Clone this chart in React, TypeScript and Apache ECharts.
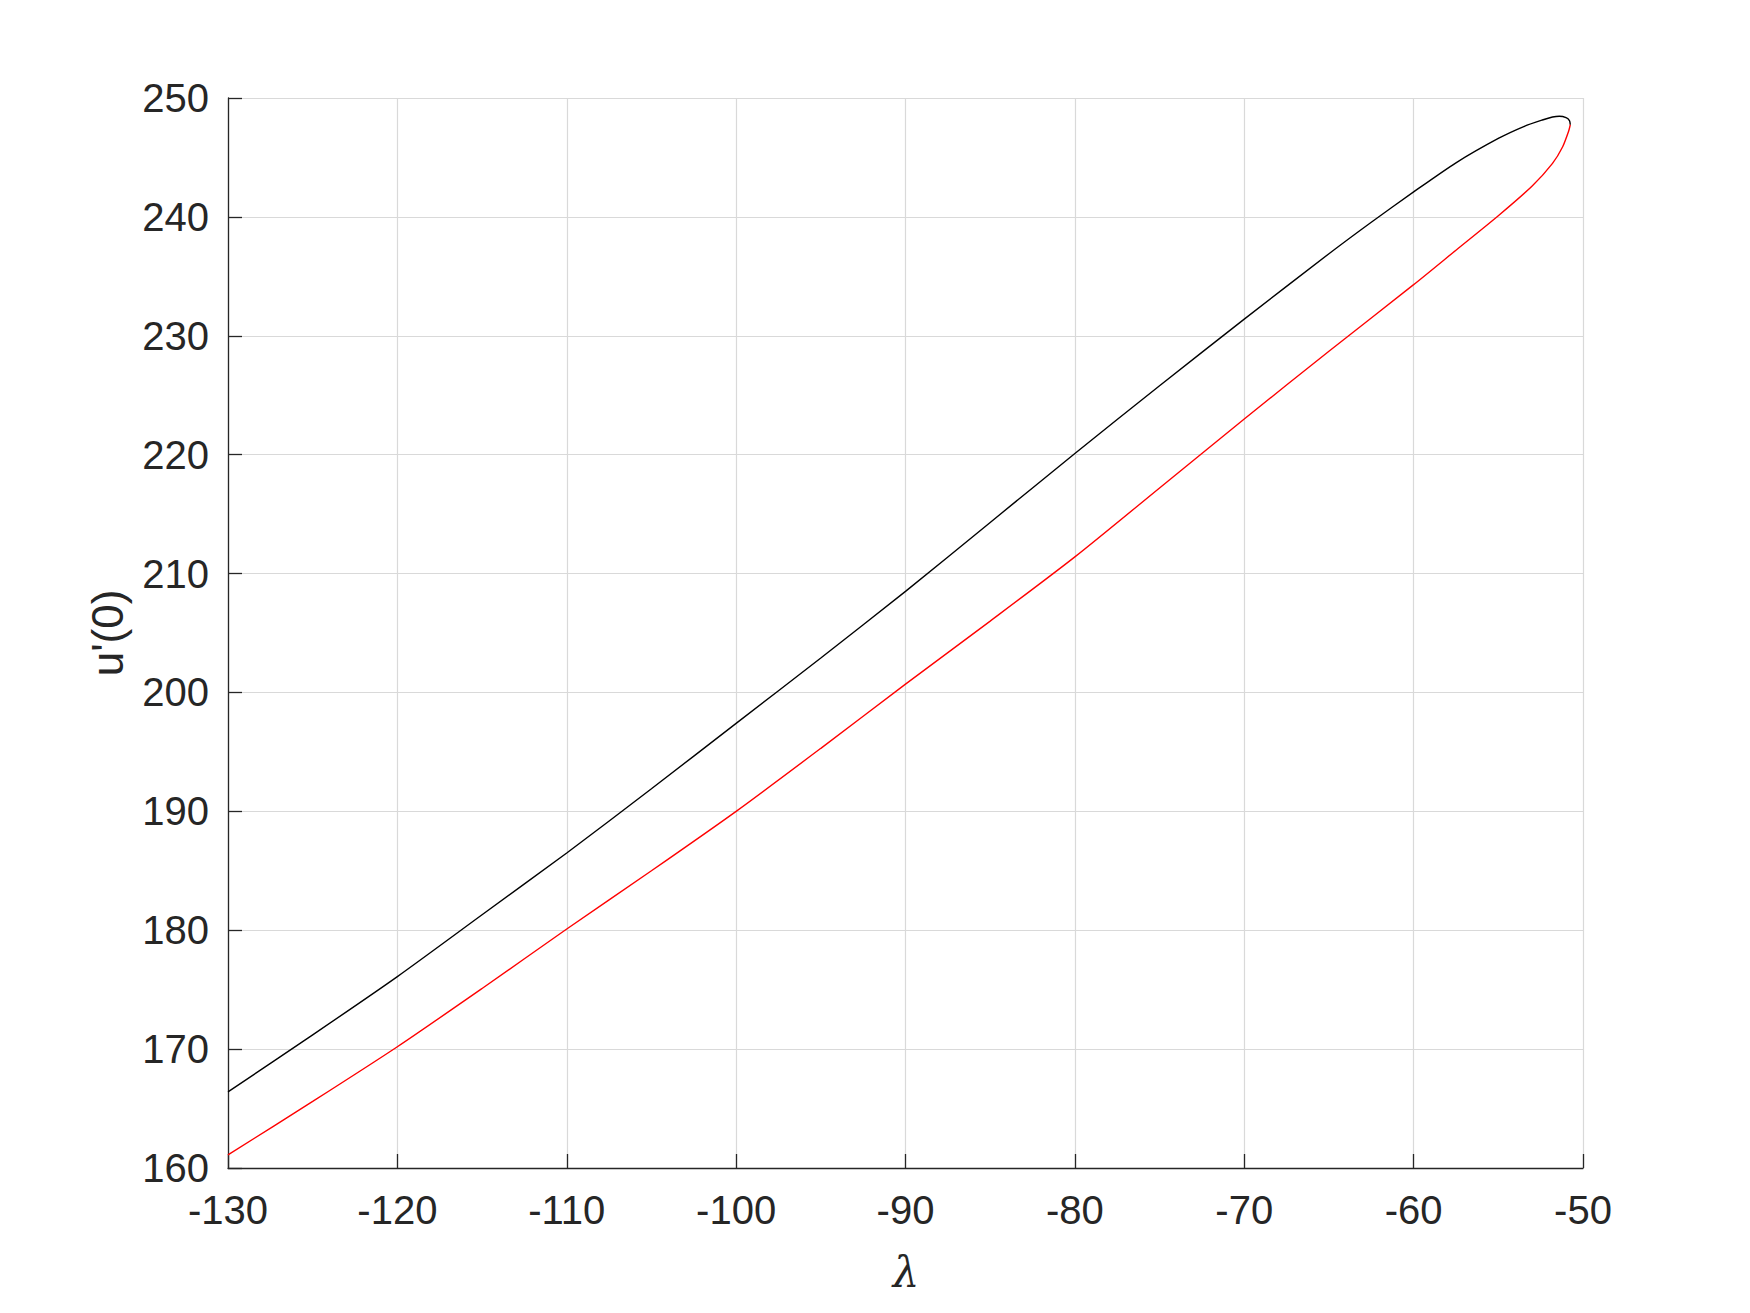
import React, { useEffect, useRef } from "react";
import * as echarts from "echarts";

// Upper branch (black): lambda, u'(0)
const blackLambda = [-130, -125, -120, -115, -110, -105, -100, -95, -90, -85, -80, -75, -70, -65, -62.5, -60, -57.5, -55, -53.5, -52.4, -51.8, -51.4, -51.0, -50.8, -50.75];
const blackU = [166.4, 171.2, 176.1, 181.3, 186.5, 191.9, 197.4, 202.9, 208.5, 214.3, 220.1, 225.8, 231.4, 236.9, 239.55, 242.1, 244.55, 246.6, 247.6, 248.15, 248.4, 248.47, 248.35, 248.1, 247.75];

// Lower branch (red): lambda, u'(0)
const redLambda = [-50.75, -50.85, -51.2, -51.8, -53, -55, -57.5, -60, -65, -70, -75, -80, -85, -90, -95, -100, -105, -110, -115, -120, -125, -130];
const redU = [247.75, 247.2, 245.9, 244.5, 242.6, 240.1, 237.2, 234.3, 228.7, 223.0, 217.2, 211.4, 206.0, 200.7, 195.3, 190.0, 185.0, 180.1, 175.1, 170.2, 165.6, 161.1];

const xMin = -130;
const xMax = -50;
const xStep = 10;
const yMin = 160;
const yMax = 250;
const yStep = 10;

const yLabel = "u'(0)";
const xLabel = "λ";

export default function App() {
  const ref = useRef<HTMLDivElement>(null);
  useEffect(() => {
    if (!ref.current) return;
    const chart = echarts.init(ref.current, undefined, { renderer: "svg" });
    const textColor = "#262626";
    const font = "'Liberation Sans', Arial, Helvetica, sans-serif";
    const axisCommon = {
      axisLine: { show: true, lineStyle: { color: textColor, width: 1.3 } },
      axisTick: { show: true, inside: true, length: 14, lineStyle: { color: textColor, width: 1.3 } },
      splitLine: { show: true, lineStyle: { color: "#d9d9d9", width: 1.2 } },
      axisLabel: { color: textColor, fontSize: 40, fontFamily: font },
    };
    chart.setOption({
      animation: false,
      backgroundColor: "#ffffff",
      grid: { left: 228, right: 167, top: 98, bottom: 145, containLabel: false },
      xAxis: {
        type: "value",
        min: xMin,
        max: xMax,
        interval: xStep,
        ...axisCommon,
        axisLabel: { ...axisCommon.axisLabel, margin: 22 },
      },
      yAxis: {
        type: "value",
        min: yMin,
        max: yMax,
        interval: yStep,
        ...axisCommon,
        axisLabel: { ...axisCommon.axisLabel, margin: 19 },
      },
      graphic: [
        {
          type: "text",
          x: 107,
          y: 633,
          rotation: Math.PI / 2,
          style: {
            text: yLabel,
            fill: textColor,
            font: `44px ${font}`,
            align: "center",
            verticalAlign: "middle",
          },
        },
        {
          type: "text",
          x: 906,
          y: 1272,
          style: {
            text: xLabel,
            fill: textColor,
            font: `italic 42px 'DejaVu Serif', 'Liberation Serif', serif`,
            align: "center",
            verticalAlign: "middle",
          },
        },
      ],
      series: [
        {
          type: "line",
          data: blackLambda.map((x, i) => [x, blackU[i]]),
          showSymbol: false,
          symbol: "none",
          lineStyle: { color: "#000000", width: 1.4 },
          smooth: 0.25,
        },
        {
          type: "line",
          data: redLambda.map((x, i) => [x, redU[i]]),
          showSymbol: false,
          symbol: "none",
          lineStyle: { color: "#ff0000", width: 1.4 },
          smooth: 0.25,
        },
      ],
    });
    return () => chart.dispose();
  }, []);
  return (
    <div
      ref={ref}
      style={{ position: "fixed", left: 0, top: 0, width: 1750, height: 1313, background: "#fff" }}
    />
  );
}
